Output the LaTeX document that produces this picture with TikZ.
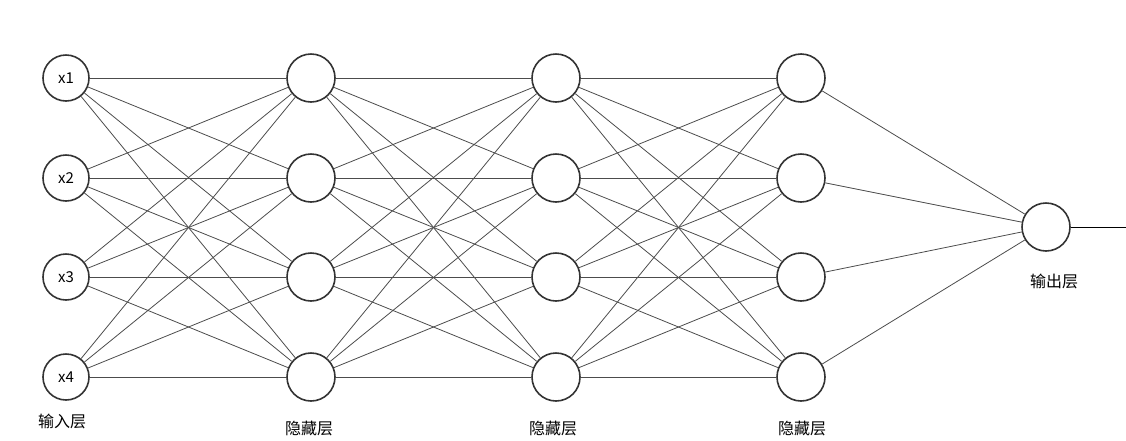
\documentclass[tikz,border=0pt]{standalone}
\usepackage{fontspec}
\setmainfont{Noto Sans CJK SC}
\begin{document}
\begin{tikzpicture}[x=1pt,y=-1pt,
  neuron/.style={circle,draw=black!80,line width=1.6pt,minimum size=46pt,inner sep=0pt,font=\fontsize{15}{15}\selectfont},
  hid/.style={neuron,minimum size=48pt},
  edge/.style={draw=black!70,line width=0.8pt},
  lab/.style={font=\fontsize{16}{16}\selectfont}]
\useasboundingbox (0,0) rectangle (1126,440);
\foreach \i/\y in {1/78,2/178,3/277,4/377}{
  \node[neuron] (a\i) at (66,\y) {x\i};
  \node[hid] (b\i) at (311,\y) {};
  \node[hid] (c\i) at (556,\y) {};
  \node[hid] (d\i) at (801,\y) {};
}
\node[hid] (o) at (1046,227) {};
\coordinate (e) at (1126,227);
\foreach \i in {1,...,4}{
  \foreach \j in {1,...,4}{
    \draw[edge] (a\i) -- (b\j);
    \draw[edge] (b\i) -- (c\j);
    \draw[edge] (c\i) -- (d\j);
  }
  \draw[edge] (d\i) -- (o);
}
\draw[edge,draw=black] (o) -- (e);
\node[lab] (l0) at (62,421) {输入层};
\node[lab] (l1) at (309,428) {隐藏层};
\node[lab] (l2) at (553,428) {隐藏层};
\node[lab] (l3) at (802,428) {隐藏层};
\node[lab] (l4) at (1054,281) {输出层};
\end{tikzpicture}
\end{document}
